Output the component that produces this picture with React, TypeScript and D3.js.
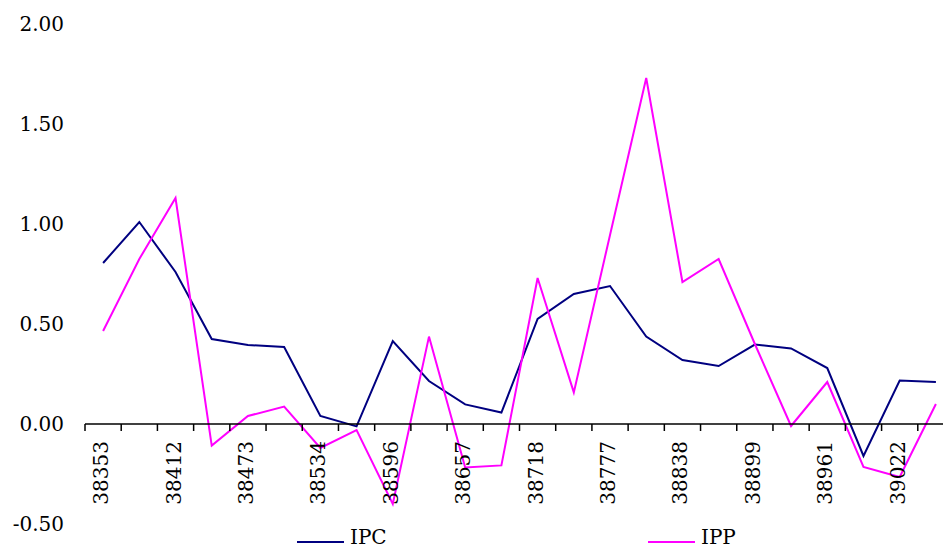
import React from "react";
import * as d3 from "d3";

const categories = [
  "38353", "38384", "38412", "38443", "38473", "38504", "38534", "38565",
  "38596", "38626", "38657", "38687", "38718", "38749", "38777", "38808",
  "38838", "38869", "38899", "38930", "38961", "38991", "39022", "39052",
];
const ipc = [
  0.805, 1.01, 0.76, 0.425, 0.395, 0.385, 0.04, -0.012, 0.415, 0.215, 0.098, 0.057,
  0.525, 0.65, 0.69, 0.437, 0.32, 0.29, 0.397, 0.378, 0.28, -0.16, 0.217, 0.21,
];
const ipp = [
  0.465, 0.825, 1.13, -0.108, 0.04, 0.087, -0.12, -0.03, -0.4, 0.437, -0.217, -0.207,
  0.73, 0.158, 0.945, 1.73, 0.71, 0.825, 0.4, -0.01, 0.21, -0.215, -0.265, 0.1,
];
const yTicks = [-0.5, 0, 0.5, 1, 1.5, 2];
const seriesNames = ["IPC", "IPP"];
const seriesColors = ["#000080", "#FF00FF"];

const W = 943;
const H = 549;
const FONT = "'DejaVu Serif', serif";

export default function App() {
  const x = d3.scaleBand<string>().domain(categories).range([85, 954]).padding(0);
  const y = d3.scaleLinear().domain([-0.5, 2]).range([524, 24]);
  const cx = (c: string) => (x(c) as number) + x.bandwidth() / 2;
  const line = d3
    .line<number>()
    .x((_, i) => cx(categories[i]))
    .y((v) => y(v));
  const y0 = y(0);
  const series = [ipc, ipp];
  const legendX = [297, 648];

  return (
    <svg
      width={W}
      height={H}
      style={{ position: "fixed", left: 0, top: 0, display: "block", background: "#fff" }}
      fontFamily={FONT}
    >
      {yTicks.map((t) => (
        <text key={t} x={64} y={y(t)} dy="0.35em" textAnchor="end" fontSize={20} fill="#000">
          {t.toFixed(2)}
        </text>
      ))}
      {series.map((s, i) => (
        <path key={i} d={line(s) || ""} fill="none" stroke={seriesColors[i]} strokeWidth={2} />
      ))}
      <line x1={85} x2={954} y1={y0} y2={y0} stroke="#000" strokeWidth={1.5} />
      {categories.map((c) => (
        <line
          key={"t" + c}
          x1={x(c) as number}
          x2={x(c) as number}
          y1={y0}
          y2={y0 + 7}
          stroke="#000"
          strokeWidth={1.5}
        />
      ))}
      <line x1={954} x2={954} y1={y0} y2={y0 + 7} stroke="#000" strokeWidth={1.5} />
      {categories.map((c, i) =>
        i % 2 === 0 ? (
          <text
            key={"l" + c}
            transform={`translate(${cx(c) + 5},441) rotate(-90)`}
            textAnchor="end"
            fontSize={20}
            fill="#000"
          >
            {c}
          </text>
        ) : null
      )}
      {seriesNames.map((n, i) => (
        <g key={n}>
          <line
            x1={legendX[i]}
            x2={legendX[i] + 47}
            y1={542}
            y2={542}
            stroke={seriesColors[i]}
            strokeWidth={2}
          />
          <text x={legendX[i] + 53} y={544} fontSize={20} fill="#000">
            {n}
          </text>
        </g>
      ))}
    </svg>
  );
}
